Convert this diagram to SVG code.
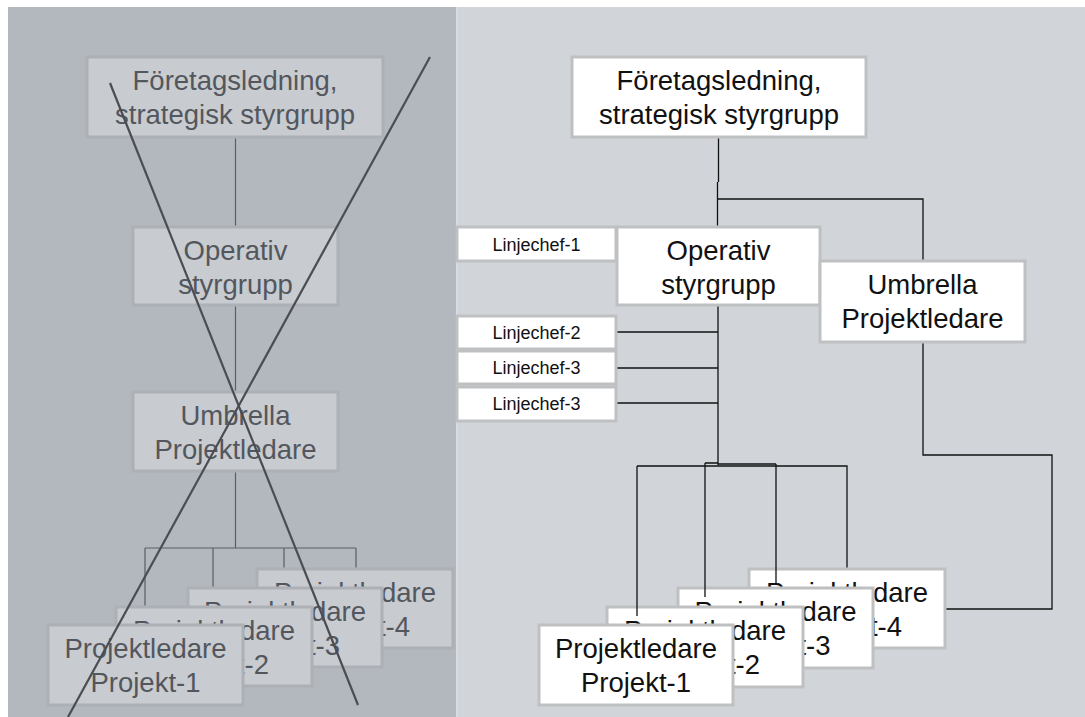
<svg xmlns="http://www.w3.org/2000/svg" width="1085" height="717" viewBox="0 0 1085 717">
<style>
  text { font-family: "Liberation Sans", Arial, sans-serif; text-anchor: middle; }
  .big { font-size: 27.5px; }
  .small { font-size: 18px; }
  .lbox { fill: #c8cbd0; stroke: #adb0b5; stroke-width: 3; }
  .ltxt { fill: #53575d; }
  .rbox { fill: #ffffff; stroke: #bfc0c2; stroke-width: 3; }
  .rtxt { fill: #111111; }
  .lcon { fill: none; stroke: #5a5e64; stroke-width: 1.2; }
  .rcon { fill: none; stroke: #111111; stroke-width: 1.3; }
  .cross { stroke: #4a4d52; stroke-width: 2.2; }
</style>
<rect x="0" y="0" width="1085" height="717" fill="#ffffff"/>
<rect x="8" y="7" width="448" height="710" fill="#b3b7be"/>
<rect x="456" y="7" width="629" height="710" fill="#d1d4d9"/>
<rect x="456" y="7" width="1.5" height="710" fill="#dadde1"/>

<!-- LEFT PANEL -->
<g id="left-connectors">
  <path class="lcon" d="M235.5 137 V227 M235.5 305 V392 M235.5 471 V548 M145 548 H356 M145 548 V614 M213 548 V603 M284 548 V587 M356 548 V569"/>
</g>
<g id="L-foretag">
  <rect class="lbox" x="87" y="57" width="296" height="80"/>
  <text class="big ltxt" x="235" y="90">Företagsledning,</text>
  <text class="big ltxt" x="235" y="124">strategisk styrgrupp</text>
</g>
<g id="L-operativ">
  <rect class="lbox" x="133" y="227" width="205" height="78"/>
  <text class="big ltxt" x="235.5" y="260">Operativ</text>
  <text class="big ltxt" x="235.5" y="294">styrgrupp</text>
</g>
<g id="L-umbrella">
  <rect class="lbox" x="133" y="392" width="205" height="79"/>
  <text class="big ltxt" x="235.5" y="425">Umbrella</text>
  <text class="big ltxt" x="235.5" y="459">Projektledare</text>
</g>
<g id="L-proj4">
  <rect class="lbox" x="257" y="569" width="196" height="79"/>
  <text class="big ltxt" x="355" y="602">Projektledare</text>
  <text class="big ltxt" x="355" y="636">Projekt-4</text>
</g>
<g id="L-proj3">
  <rect class="lbox" x="188" y="588" width="194" height="79"/>
  <text class="big ltxt" x="285" y="621">Projektledare</text>
  <text class="big ltxt" x="285" y="655">Projekt-3</text>
</g>
<g id="L-proj2">
  <rect class="lbox" x="116" y="607" width="196" height="79"/>
  <text class="big ltxt" x="214" y="640">Projektledare</text>
  <text class="big ltxt" x="214" y="674">Projekt-2</text>
</g>
<g id="L-proj1">
  <rect class="lbox" x="48" y="625" width="195" height="80"/>
  <text class="big ltxt" x="145.5" y="658">Projektledare</text>
  <text class="big ltxt" x="145.5" y="692">Projekt-1</text>
</g>
<g id="left-cross">
  <line class="cross" x1="110" y1="83" x2="358" y2="705"/>
  <line class="cross" x1="430" y1="57" x2="68" y2="717"/>
</g>

<!-- RIGHT PANEL -->
<g id="R-foretag">
  <rect class="rbox" x="572" y="57" width="294" height="80"/>
  <text class="big rtxt" x="719" y="90">Företagsledning,</text>
  <text class="big rtxt" x="719" y="124">strategisk styrgrupp</text>
</g>
<g id="R-linjechef1">
  <rect class="rbox" x="457" y="227" width="159" height="34"/>
  <text class="small rtxt" x="536.5" y="251">Linjechef-1</text>
</g>
<g id="R-linjechef2">
  <rect class="rbox" x="457" y="316" width="159" height="33"/>
  <text class="small rtxt" x="536.5" y="339">Linjechef-2</text>
</g>
<g id="R-linjechef3a">
  <rect class="rbox" x="457" y="351" width="159" height="33"/>
  <text class="small rtxt" x="536.5" y="374">Linjechef-3</text>
</g>
<g id="R-linjechef3b">
  <rect class="rbox" x="457" y="387" width="159" height="34"/>
  <text class="small rtxt" x="536.5" y="410">Linjechef-3</text>
</g>
<g id="R-operativ">
  <rect class="rbox" x="617" y="227" width="203" height="78"/>
  <text class="big rtxt" x="718.5" y="260">Operativ</text>
  <text class="big rtxt" x="718.5" y="294">styrgrupp</text>
</g>
<g id="R-umbrella">
  <rect class="rbox" x="820" y="261" width="205" height="81"/>
  <text class="big rtxt" x="922.5" y="294">Umbrella</text>
  <text class="big rtxt" x="922.5" y="328">Projektledare</text>
</g>
<g id="R-proj4">
  <rect class="rbox" x="749" y="569" width="196" height="79"/>
  <text class="big rtxt" x="847" y="602">Projektledare</text>
  <text class="big rtxt" x="847" y="636">Projekt-4</text>
</g>
<g id="R-proj3">
  <rect class="rbox" x="678" y="588" width="195" height="80"/>
  <text class="big rtxt" x="775.5" y="621">Projektledare</text>
  <text class="big rtxt" x="775.5" y="655">Projekt-3</text>
</g>
<g id="R-proj2">
  <rect class="rbox" x="607" y="607" width="196" height="80"/>
  <text class="big rtxt" x="705" y="640">Projektledare</text>
  <text class="big rtxt" x="705" y="674">Projekt-2</text>
</g>
<g id="R-proj1">
  <rect class="rbox" x="539" y="625" width="194" height="80"/>
  <text class="big rtxt" x="636" y="658">Projektledare</text>
  <text class="big rtxt" x="636" y="692">Projekt-1</text>
</g>
<g id="right-connectors">
  <path class="rcon" stroke-width="2" d="M718.5 138.5 V182"/>
  <path class="rcon" d="M717.5 182 V225.5 M718 199 H923 V259.5"/>
  <path class="rcon" d="M617.5 332 H718 M617.5 368 H718 M617.5 403 H718 M718 306.5 V465"/>
  <path class="rcon" d="M637 466 H847 V567.5 M637 466 V616 M705 463 H718 M705 463 V597 M776 464 V583 M718 464 H776"/>
  <path class="rcon" d="M923 343.5 V455 H1052 V609 H946.5"/>
</g>
</svg>
